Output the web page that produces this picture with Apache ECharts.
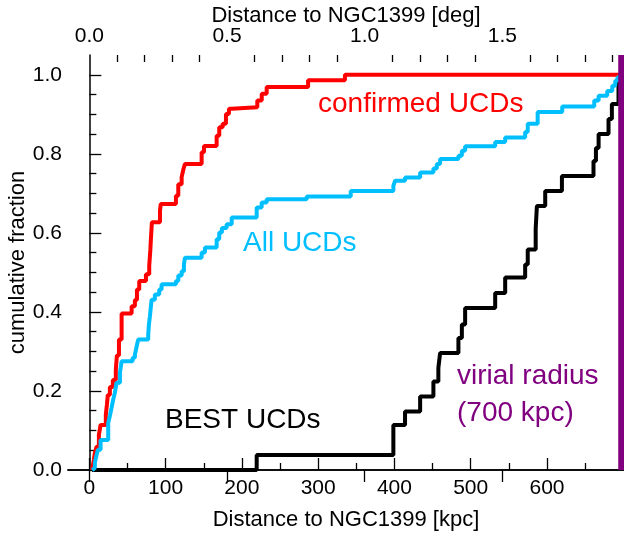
<!DOCTYPE html>
<html><head><meta charset="utf-8">
<script src="https://cdn.jsdelivr.net/npm/echarts@6/dist/echarts.min.js"></script>
<style>html,body{margin:0;padding:0;background:#fff}#c{width:624px;height:534px}</style>
</head><body><div id="c"></div>
<script>
// ---- data (distance in kpc, cumulative fraction) ----
const confirmedKpc = [3.5, 4.2, 5.9, 7.2, 9.4, 12.5, 14.7, 21.6, 23.0, 24.2,
  26.9, 30.8, 34.7, 36.1, 38.8, 42.3, 55.4, 59.7, 62.4, 65.4,
  74.2, 78.5, 80.0, 80.7, 82.0, 92.6, 93.6, 113.5, 116.6, 121.0,
  123.3, 125.3, 147.2, 150.3, 166.9, 170.3, 174.8, 179.1, 183.0, 186.6,
  220.2, 226.0, 232.5, 286.8, 335.1, 701];
const confirmedFrac = [0, 0.008, 0.025, 0.043, 0.059, 0.089, 0.114, 0.14, 0.165, 0.19,
  0.21, 0.228, 0.254, 0.29, 0.33, 0.396, 0.414, 0.43, 0.457, 0.478,
  0.495, 0.516, 0.558, 0.584, 0.627, 0.656, 0.673, 0.694, 0.723, 0.741,
  0.761, 0.774, 0.804, 0.82, 0.846, 0.867, 0.876, 0.901, 0.914, 0.918,
  0.935, 0.952, 0.969, 0.986, 1.0, 1.0];

const allKpc = [3.5, 4.2, 7.2, 9.2, 11.2, 14.7, 24.7, 26.9, 29.1, 31.2,
  33.4, 35.7, 40.1, 42.3, 56.7, 59.7, 61.7, 64.0, 77.2, 78.1,
  79.4, 81.6, 85.9, 91.6, 94.7, 113.5, 116.6, 121.0, 124.0, 125.3,
  147.2, 151.6, 166.9, 170.3, 173.8, 180.0, 186.6, 219.4, 225.9, 232.5,
  285.0, 342.7, 398.6, 400.9, 413.9, 433.7, 451.1, 455.6, 459.9, 483.9,
  488.4, 492.7, 532.1, 545.2, 571.4, 574.8, 587.8, 620.0, 662.0, 667.7,
  679.0, 685.6, 689.5, 692.5, 696.1];
const allFrac = [0, 0.005, 0.018, 0.036, 0.051, 0.076, 0.119, 0.137, 0.157, 0.178,
  0.195, 0.221, 0.246, 0.275, 0.284, 0.292, 0.310, 0.330, 0.343, 0.368,
  0.389, 0.431, 0.444, 0.457, 0.470, 0.478, 0.492, 0.503, 0.520, 0.537,
  0.550, 0.563, 0.584, 0.601, 0.612, 0.622, 0.639, 0.664, 0.677, 0.685,
  0.692, 0.706, 0.719, 0.732, 0.740, 0.753, 0.763, 0.774, 0.787, 0.795,
  0.808, 0.819, 0.830, 0.841, 0.855, 0.876, 0.906, 0.920, 0.935, 0.947,
  0.959, 0.972, 0.985, 0.994, 1.0];

const bestKpc = [3.5, 219.4, 398.6, 413.9, 433.7, 451.1, 457.6, 459.9, 483.9, 488.4,
  492.7, 532.1, 545.2, 571.4, 574.8, 585.2, 586.8, 597.7, 619.6, 661.0,
  664.2, 667.7, 680.7, 685.1, 693.8, 696.1];
const bestFrac = [0, 0.038, 0.114, 0.148, 0.186, 0.224, 0.258, 0.296, 0.334, 0.368,
  0.41, 0.448, 0.487, 0.52, 0.558, 0.61, 0.668, 0.706, 0.744, 0.782,
  0.815, 0.85, 0.888, 0.926, 0.973, 1.0];

const virialRadiusKpc = [700];
const virialFrac = [0, 1.05];

// ---- axes / ticks ----
const kpcPerDeg = 361;
const kpcMin = -28, kpcMax = 701;
const kpcTicks = [0, 100, 200, 300, 400, 500, 600, 700];
const kpcLabels = [0, 100, 200, 300, 400, 500, 600];
const kpcMinorTicks = [50, 150, 250, 350, 450, 550, 650];
const degTicks = [0, 0.5, 1.0, 1.5];
const degMinorTicks = [0.1, 0.2, 0.3, 0.4, 0.6, 0.7, 0.8, 0.9, 1.1, 1.2, 1.3, 1.4, 1.6, 1.7, 1.8, 1.9];
const fracTicks = [0, 0.2, 0.4, 0.6, 0.8, 1.0];
const fracMinorTicks = [0.05, 0.1, 0.15, 0.25, 0.3, 0.35, 0.45, 0.5, 0.55, 0.65, 0.7, 0.75, 0.85, 0.9, 0.95];

const FONT = '"Liberation Sans", Arial, sans-serif';
const pairs = (xs, ys) => xs.map((x, i) => [x, ys[i]]);

const chart = echarts.init(document.getElementById('c'), null, {renderer: 'canvas'});
const lineAxis = {show: true, lineStyle: {color: '#000', width: 1.5}};
const tickStyle = {color: '#000', width: 1.3};

const option = {
  animation: false,
  backgroundColor: '#fff',
  grid: {left: 68, right: 0, top: 55, bottom: 64, containLabel: false, outerBoundsMode: 'none'},
  xAxis: [
    {type: 'value', position: 'bottom', min: kpcMin, max: kpcMax,
     axisLine: lineAxis,
     axisTick: {inside: true, length: 12, customValues: kpcTicks, lineStyle: tickStyle},
     axisLabel: {customValues: kpcLabels, fontSize: 21, color: '#000', fontFamily: FONT, margin: 8},
     splitLine: {show: false},
     name: 'Distance to NGC1399 [kpc]', nameLocation: 'middle', nameGap: 39, nameMoveOverlap: false,
     nameTextStyle: {fontSize: 22, color: '#000', fontFamily: FONT}},
    {type: 'value', position: 'top', min: kpcMin / kpcPerDeg, max: kpcMax / kpcPerDeg,
     axisLine: lineAxis,
     axisTick: {inside: true, length: 12, customValues: degTicks, lineStyle: tickStyle},
     axisLabel: {customValues: degTicks, fontSize: 21, color: '#000', fontFamily: FONT, margin: 8,
                 formatter: v => Number(v).toFixed(1)},
     splitLine: {show: false},
     name: 'Distance to NGC1399 [deg]', nameLocation: 'middle', nameGap: 28, nameMoveOverlap: false,
     nameTextStyle: {fontSize: 22, color: '#000', fontFamily: FONT}},
    {type: 'value', position: 'bottom', min: kpcMin, max: kpcMax,
     axisLine: {show: false},
     axisTick: {inside: true, length: 7, customValues: kpcMinorTicks, lineStyle: tickStyle},
     axisLabel: {show: false}, splitLine: {show: false}},
    {type: 'value', position: 'top', min: kpcMin / kpcPerDeg, max: kpcMax / kpcPerDeg,
     axisLine: {show: false},
     axisTick: {inside: true, length: 7, customValues: degMinorTicks, lineStyle: tickStyle},
     axisLabel: {show: false}, splitLine: {show: false}}
  ],
  yAxis: [
    {type: 'value', position: 'left', min: 0, max: 1.05,
     axisLine: lineAxis,
     axisTick: {inside: true, length: 12, customValues: fracTicks, lineStyle: tickStyle},
     axisLabel: {customValues: fracTicks, fontSize: 21, color: '#000', fontFamily: FONT, margin: 6,
                 formatter: v => Number(v).toFixed(1)},
     splitLine: {show: false},
     name: 'cumulative fraction', nameLocation: 'middle', nameGap: 39, nameRotate: 90, nameMoveOverlap: false,
     nameTextStyle: {fontSize: 22, color: '#000', fontFamily: FONT}},
    {type: 'value', position: 'left', min: 0, max: 1.05,
     axisLine: {show: false},
     axisTick: {inside: true, length: 7, customValues: fracMinorTicks, lineStyle: tickStyle},
     axisLabel: {show: false}, splitLine: {show: false}}
  ],
  series: [
    {name: 'confirmed UCDs', type: 'line', step: 'end', showSymbol: false,
     data: pairs(confirmedKpc, confirmedFrac),
     lineStyle: {color: '#ff0000', width: 4}, itemStyle: {color: '#ff0000'}},
    {name: 'BEST UCDs', type: 'line', step: 'end', showSymbol: false,
     data: pairs(bestKpc, bestFrac),
     lineStyle: {color: '#000000', width: 4}, itemStyle: {color: '#000'}},
    {name: 'All UCDs', type: 'line', step: 'end', showSymbol: false,
     data: pairs(allKpc, allFrac),
     lineStyle: {color: '#00bfff', width: 4}, itemStyle: {color: '#00bfff'}},
    {name: 'virial radius', type: 'line', showSymbol: false,
     data: virialFrac.map(f => [virialRadiusKpc[0], f]),
     lineStyle: {color: '#800080', width: 10}, itemStyle: {color: '#800080'}}
  ],
  graphic: [
    {type: 'text', x: 318, y: 104, style: {text: 'confirmed UCDs', font: '28px ' + FONT, fill: '#ff0000', verticalAlign: 'middle'}},
    {type: 'text', x: 243, y: 243, style: {text: 'All UCDs', font: '28px ' + FONT, fill: '#00bfff', verticalAlign: 'middle'}},
    {type: 'text', x: 165, y: 420, style: {text: 'BEST UCDs', font: '28px ' + FONT, fill: '#000000', verticalAlign: 'middle'}},
    {type: 'text', x: 457, y: 376, style: {text: 'virial radius', font: '28px ' + FONT, fill: '#800080', verticalAlign: 'middle'}},
    {type: 'text', x: 457, y: 413, style: {text: '(700 kpc)', font: '28px ' + FONT, fill: '#800080', verticalAlign: 'middle'}}
  ]
};
chart.setOption(option);
</script>
</body></html>
